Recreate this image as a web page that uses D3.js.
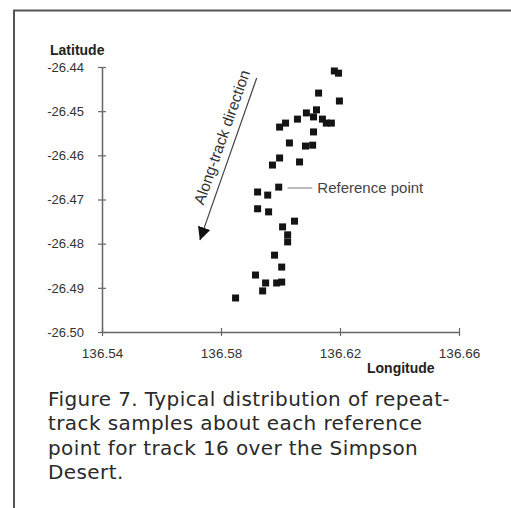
<!DOCTYPE html>
<html>
<head>
<meta charset="utf-8">
<script src="https://cdn.jsdelivr.net/npm/d3@7"></script>
<style>
  body { margin: 0; background: #fff; }
  svg { display: block; }
</style>
</head>
<body>
<div id="chart"></div>
<script>
// repeat-track samples (longitude, latitude)
const lons = [
  136.6181, 136.6195, 136.6128, 136.6198, 136.6121, 136.6087, 136.6057, 136.6111,
  136.6141, 136.6154, 136.6171, 136.6017, 136.5997, 136.6111, 136.6030, 136.6084,
  136.6108, 136.5997, 136.5973, 136.6064, 136.5994, 136.5923, 136.5957, 136.5923,
  136.5960, 136.6047, 136.6007, 136.6024, 136.6024, 136.5980, 136.6004, 136.5916,
  136.5950, 136.5940, 136.5987, 136.6004, 136.5849
];
const lats = [
  -26.4409, -26.4414, -26.4459, -26.4477, -26.4497, -26.4504, -26.4518, -26.4513,
  -26.4518, -26.4527, -26.4527, -26.4527, -26.4536, -26.4547, -26.4572, -26.4579,
  -26.4577, -26.4606, -26.4622, -26.4615, -26.4672, -26.4683, -26.4690, -26.4721,
  -26.4728, -26.4749, -26.4762, -26.4780, -26.4796, -26.4826, -26.4853, -26.4871,
  -26.4889, -26.4907, -26.4889, -26.4887, -26.4923
];
const xTicks = [136.54, 136.58, 136.62, 136.66];
const yTicks = [-26.44, -26.45, -26.46, -26.47, -26.48, -26.49, -26.50];

// annotations, in data units
const arrowFrom = [136.5920, -26.4425];
const arrowTo = [136.5729, -26.4792];
const refLine = [[136.6024, -26.4674], [136.6107, -26.4674]];
const captionLines = [
  "Figure 7. Typical distribution of repeat-",
  "track samples about each reference",
  "point for track 16 over the Simpson",
  "Desert."
];

const W = 511, H = 508;
const svg = d3.select("#chart").append("svg")
  .attr("width", W)
  .attr("height", H);

// page frame
svg.append("path")
  .attr("d", "M14,508 L14,10.5 L511,10.5")
  .attr("fill", "none")
  .attr("stroke", "#555")
  .attr("stroke-width", 2);

const x = d3.scaleLinear().domain([136.54, 136.66]).range([102, 459]);
const y = d3.scaleLinear().domain([-26.50, -26.44]).range([332, 67]);

const axisColor = "#666";
const sans = "'Liberation Sans', Arial, sans-serif";

// y axis
const yAxis = svg.append("g")
  .attr("transform", "translate(" + x(136.54) + ",0)")
  .call(d3.axisLeft(y).tickValues(yTicks).tickFormat(d3.format(".2f"))
    .tickSize(4).tickSizeOuter(0).tickPadding(14));
yAxis.select(".domain").attr("stroke", axisColor).attr("stroke-width", 1.5);
yAxis.selectAll(".tick line").attr("x1", 4).attr("stroke", axisColor).attr("stroke-width", 1.2);
yAxis.selectAll(".tick text")
  .attr("fill", "#333")
  .style("font-family", sans)
  .style("font-size", "13px")
  .text(d => d3.format(".2f")(d).replace("−", "-"));

// x axis
const xAxis = svg.append("g")
  .attr("transform", "translate(0," + y(-26.50) + ")")
  .call(d3.axisBottom(x).tickValues(xTicks).tickFormat(d3.format(".2f"))
    .tickSize(4).tickSizeOuter(0).tickPadding(12));
xAxis.select(".domain").attr("stroke", axisColor).attr("stroke-width", 1.5);
xAxis.selectAll(".tick line").attr("y1", -4).attr("stroke", axisColor).attr("stroke-width", 1.2);
xAxis.selectAll(".tick text")
  .attr("fill", "#333")
  .style("font-family", sans)
  .style("font-size", "13.5px");

// axis titles
svg.append("text")
  .attr("x", 50).attr("y", 55)
  .style("font-family", sans)
  .style("font-size", "14px")
  .style("font-weight", "bold")
  .attr("fill", "#222")
  .text("Latitude");

svg.append("text")
  .attr("x", 367).attr("y", 373)
  .style("font-family", sans)
  .style("font-size", "14px")
  .style("font-weight", "bold")
  .attr("fill", "#222")
  .text("Longitude");

// samples
const pts = lons.map((lon, i) => ({ lon: lon, lat: lats[i] }));
const s = 7;
svg.append("g")
  .selectAll("rect")
  .data(pts)
  .join("rect")
  .attr("x", d => x(d.lon) - s / 2)
  .attr("y", d => y(d.lat) - s / 2)
  .attr("width", s)
  .attr("height", s)
  .attr("fill", "#141414");

// reference point leader + label
svg.append("line")
  .attr("x1", x(refLine[0][0])).attr("y1", y(refLine[0][1]))
  .attr("x2", x(refLine[1][0])).attr("y2", y(refLine[1][1]))
  .attr("stroke", "#777").attr("stroke-width", 1);
svg.append("text")
  .attr("x", x(refLine[1][0]) + 5)
  .attr("y", y(refLine[1][1]) + 5)
  .style("font-family", sans)
  .style("font-size", "15px")
  .attr("fill", "#444")
  .text("Reference point");

// along-track arrow
svg.append("defs").append("marker")
  .attr("id", "head")
  .attr("viewBox", "0 0 10 10")
  .attr("refX", 10).attr("refY", 5)
  .attr("markerWidth", 13).attr("markerHeight", 13)
  .attr("markerUnits", "userSpaceOnUse")
  .attr("orient", "auto")
  .append("path")
  .attr("d", "M0,0 L10,5 L0,10 Z")
  .attr("fill", "#111");

const ax1 = x(arrowFrom[0]), ay1 = y(arrowFrom[1]);
const ax2 = x(arrowTo[0]), ay2 = y(arrowTo[1]);
svg.append("line")
  .attr("x1", ax1).attr("y1", ay1)
  .attr("x2", ax2).attr("y2", ay2)
  .attr("stroke", "#444").attr("stroke-width", 1.2)
  .attr("marker-end", "url(#head)");

const ang = Math.atan2(ay1 - ay2, ax1 - ax2) * 180 / Math.PI;
svg.append("text")
  .attr("transform", "translate(" + x(136.5820) + "," + y(-26.4563) + ") rotate(" + ang + ")")
  .attr("text-anchor", "middle")
  .style("font-family", sans)
  .style("font-size", "15.5px")
  .attr("fill", "#333")
  .text("Along-track direction");

// caption
svg.append("g")
  .selectAll("text")
  .data(captionLines)
  .join("text")
  .attr("x", 48)
  .attr("y", (d, i) => 406 + i * 24.3)
  .style("font-family", "'DejaVu Sans', sans-serif")
  .style("font-size", "20px")
  .style("letter-spacing", "0.4px")
  .attr("fill", "#2a2a2a")
  .text(d => d);
</script>
</body>
</html>
